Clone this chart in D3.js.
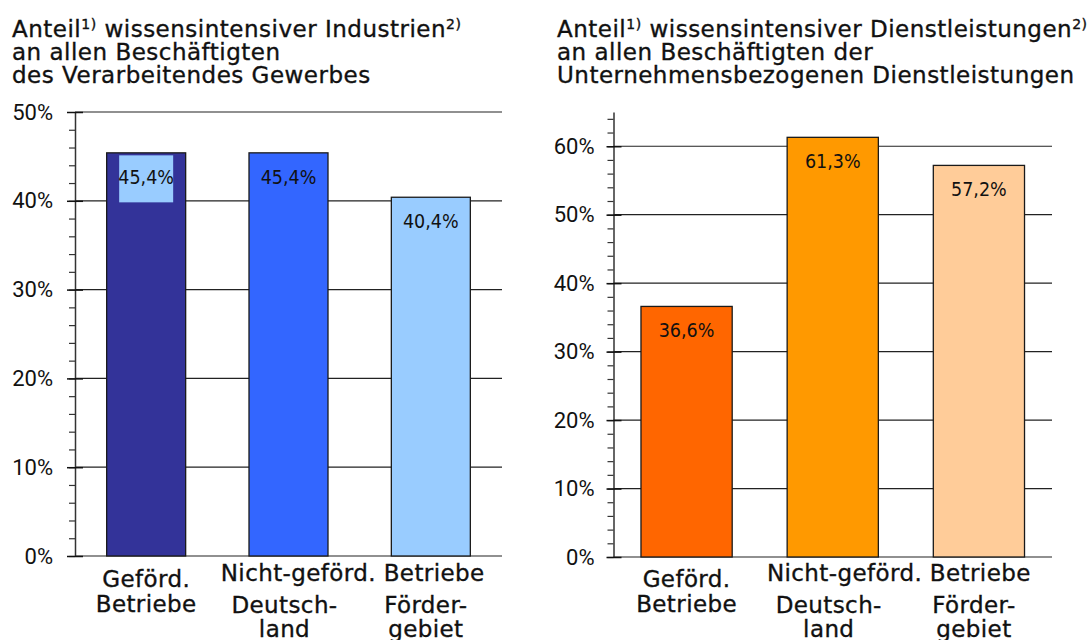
<!DOCTYPE html>
<html>
<head>
<meta charset="utf-8">
<script src="https://cdn.jsdelivr.net/npm/d3@7"></script>
<style>
  body { margin: 0; background: #fff; }
  svg text { fill: #111; }
</style>
</head>
<body>
<script>
"use strict";

// data
let categories = ['Geförd. Betriebe', 'Nicht-geförd. Betriebe Deutschland', 'Nicht-geförd. Betriebe Fördergebiet'];
let industrieValues = [45.4, 45.4, 40.4];
let dienstValues = [36.6, 61.3, 57.2];
let industrieColors = ['#333399', '#3366ff', '#99ccff'];
let dienstColors = ['#ff6600', '#ff9900', '#ffcc99'];
let industrieTicks = [0, 10, 20, 30, 40, 50];
let dienstTicks = [0, 10, 20, 30, 40, 50, 60];
let industrieTitle = [['Anteil', '1)', ' wissensintensiver Industrien', '2)'], ['an allen Beschäftigten'], ['des Verarbeitendes Gewerbes']];
let dienstTitle = [['Anteil', '1)', ' wissensintensiver Dienstleistungen', '2)'], ['an allen Beschäftigten der'], ['Unternehmensbezogenen Dienstleistungen']];

let width = 1090;
let height = 640;

let svg = d3.select('body')
    .append('svg')
    .attr('width', width)
    .attr('height', height);

let fmt = function(v) { return String(v).replace('.', ',') + '%'; };

function drawChart(opt) {
    let g = svg.append('g');

    // title, superscripts as small raised tspans
    opt.title.forEach(function(parts, i) {
        let t = g.append('text')
            .attr('x', opt.titleX)
            .attr('y', 37 + i * 23)
            .style('font-family', 'DejaVu Sans')
            .style('font-size', '23px')
            .style('letter-spacing', '0.5px')
            .style('stroke', '#111')
            .style('stroke-width', 0.35);
        parts.forEach(function(p, j) {
            let sup = j % 2 === 1;
            t.append('tspan')
                .attr('dy', sup ? -8 : (j > 0 ? 8 : 0))
                .style('font-size', sup ? '14px' : null)
                .text(p);
        });
    });

    let x = d3.scaleBand()
        .domain(categories)
        .range([opt.left, opt.right])
        .paddingInner(opt.pad)
        .paddingOuter(opt.pad / 2);

    let y = d3.scaleLinear()
        .domain([0, opt.max])
        .range([opt.bottom, opt.top]);

    // gridlines
    g.selectAll('.grid')
        .data(opt.ticks)
        .enter()
        .append('line')
        .attr('class', 'grid')
        .attr('x1', opt.left)
        .attr('x2', opt.right)
        .attr('y1', function(d) { return y(d); })
        .attr('y2', function(d) { return y(d); })
        .attr('stroke', '#222')
        .attr('stroke-width', 1.2);

    // minor ticks
    g.append('g')
        .attr('transform', 'translate(' + opt.left + ',0)')
        .call(d3.axisLeft(y).tickValues(d3.range(0, opt.max, 2)).tickSize(6).tickSizeOuter(0).tickFormat(''))
        .call(function(a) {
            a.select('.domain').attr('stroke', '#333').attr('stroke-width', 1.5);
            a.selectAll('.tick line').attr('stroke', '#333').attr('stroke-width', 1.2);
        });

    // major ticks + labels
    g.append('g')
        .attr('transform', 'translate(' + opt.left + ',0)')
        .call(d3.axisLeft(y).tickValues(opt.ticks).tickSize(opt.tick).tickPadding(opt.tickPad).tickFormat(function(d) { return d + '%'; }))
        .call(function(a) {
            a.select('.domain').remove();
            a.selectAll('.tick line').attr('stroke', '#111').attr('stroke-width', 1.5).attr('x2', 8).attr('x1', -opt.tick);
            a.selectAll('.tick text')
                .style('font-family', 'Roboto')
                .style('font-size', '22px')
                .style('fill', '#111');
        });

    // bars
    g.selectAll('.bar')
        .data(opt.values)
        .enter()
        .append('rect')
        .attr('class', 'bar')
        .attr('x', function(d, i) { return x(categories[i]); })
        .attr('y', function(d) { return y(d); })
        .attr('width', x.bandwidth())
        .attr('height', function(d) { return y(0) - y(d); })
        .attr('fill', function(d, i) { return opt.colors[i]; })
        .attr('stroke', '#1a1a1a')
        .attr('stroke-width', 1.3);

    let cx = function(i) { return x(categories[i]) + x.bandwidth() / 2; };

    // label background box (only on first bar of the left chart)
    if (opt.labelBox) {
        let v = opt.values[0];
        g.append('rect')
            .attr('x', cx(0) - 27)
            .attr('y', y(v) + 2.5)
            .attr('width', 54)
            .attr('height', 47)
            .attr('fill', opt.labelBox);
    }

    g.selectAll('.val')
        .data(opt.values)
        .enter()
        .append('text')
        .attr('class', 'val')
        .attr('x', function(d, i) { return cx(i); })
        .attr('y', function(d) { return y(d) + 31; })
        .attr('text-anchor', 'middle')
        .style('font-family', '"Liberation Sans Narrow", "DejaVu Sans Condensed", Roboto')
        .style('font-size', '19.5px')
        .text(fmt);

    // category labels
    let catText = function(tx, ty, s) {
        g.append('text')
            .attr('x', tx)
            .attr('y', ty)
            .attr('text-anchor', 'middle')
            .style('font-family', 'DejaVu Sans')
            .style('font-size', '23px')
            .style('letter-spacing', '0.4px')
            .style('stroke', '#111')
            .style('stroke-width', 0.35)
            .text(s);
    };
    catText(cx(0), 587, 'Geförd.');
    catText(cx(0), 612, 'Betriebe');
    catText((cx(1) + cx(2)) / 2 - 7, 581, 'Nicht-geförd. Betriebe');
    catText(cx(1) - 4, 613, 'Deutsch-');
    catText(cx(1) - 4, 637, 'land');
    catText(cx(2) - 5, 613, 'Förder-');
    catText(cx(2) - 5, 637, 'gebiet');
}

drawChart({
    title: industrieTitle, titleX: 12,
    values: industrieValues, colors: industrieColors, ticks: industrieTicks,
    left: 75, right: 502, top: 112, bottom: 556, max: 50, pad: 0.445,
    tick: 8, tickPad: 14, labelBox: '#99ccff'
});

drawChart({
    title: dienstTitle, titleX: 557,
    values: dienstValues, colors: dienstColors, ticks: dienstTicks,
    left: 613.5, right: 1052, top: 112, bottom: 557, max: 65, pad: 0.376,
    tick: 7, tickPad: 12, labelBox: null
});
</script>
</body>
</html>
